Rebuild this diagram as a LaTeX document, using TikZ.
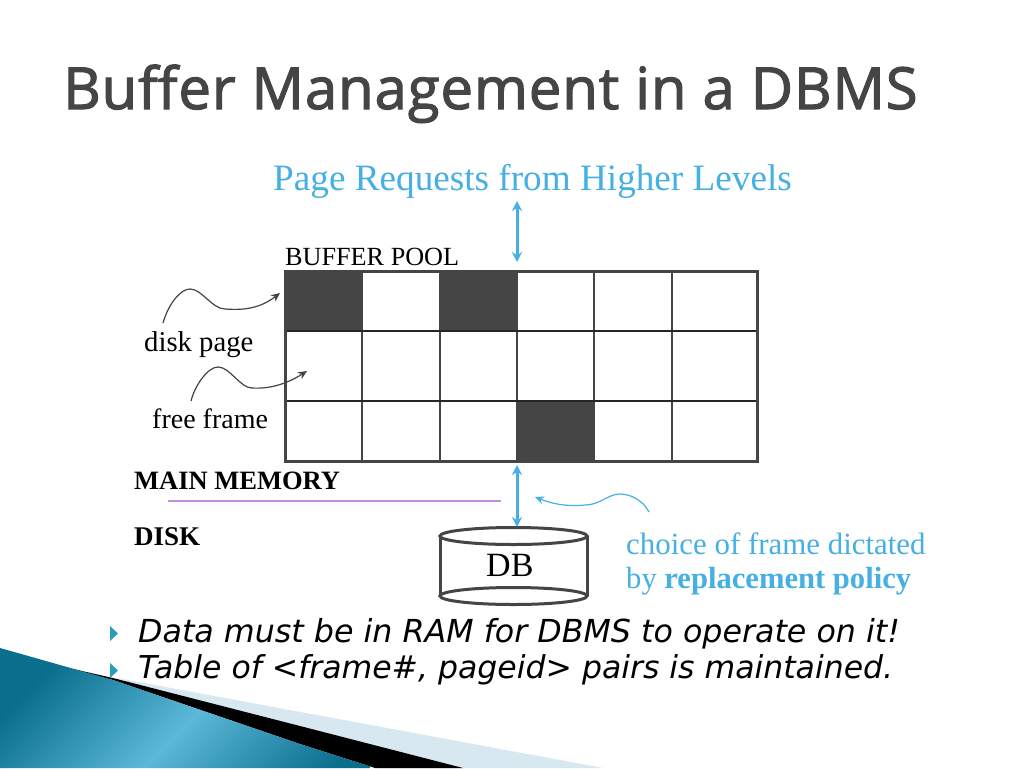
\documentclass[tikz,border=0pt]{standalone}
\usepackage{fontspec}
\setmainfont{Liberation Serif}
\newfontfamily\slidefont{DejaVu Sans}
\newfontfamily\titlefont[LetterSpace=1.6,FakeBold=2]{Open Sans}
\usetikzlibrary{arrows.meta}
\definecolor{skyline}{HTML}{45B0E1}
\definecolor{cellgray}{HTML}{454545}
\definecolor{tealdark}{HTML}{0A6E8D}
\definecolor{teallight}{HTML}{5BB8D8}
\definecolor{paleband}{HTML}{D8E8F1}
\definecolor{purpleline}{HTML}{C28FE0}
\definecolor{bulletteal}{HTML}{2A9DB8}
\pgfdeclarehorizontalshading{tealband}{100bp}{color(0bp)=(tealdark); color(33bp)=(tealdark); color(50bp)=(teallight); color(67bp)=(tealdark); color(100bp)=(tealdark)}
\newcommand{\textsz}[1]{\fontsize{#1}{#1}\selectfont}
\tikzset{
    label/.style={inner sep=0pt, anchor=base west, text=black},
    bluetext/.style={inner sep=0pt, anchor=base west, text=skyline},
    bluearrow/.style={draw=skyline, line width=3pt, {Stealth[length=10pt,width=10pt]}-{Stealth[length=10pt,width=10pt]}},
    curvearrow/.style={draw=cellgray, line width=1.2pt, -{Stealth[length=9pt,width=8pt]}},
}
\begin{document}
\begin{tikzpicture}[x=1pt, y=-1pt]
\useasboundingbox (0,0) rectangle (1024,768);
\fill[white] (0,0) rectangle (1024,768);

% Bottom corner decoration
\fill[paleband] (117,678) -- (603,768) -- (380,768) -- cycle;
\fill[black] (60,666) -- (113,678) -- (300,726) -- (463,768) -- (375,768) -- (300,744) -- (113,680) -- cycle;
\begin{scope}
\clip (0,648) -- (113,680) -- (300,744) -- (375,768) -- (0,768) -- cycle;
\shade[shading=tealband, shading angle=-45] (-30,540) rectangle (370,940);
\end{scope}

% Title
\node[label, text=cellgray] (title) at (63,109) {\titlefont\textsz{58}Buffer Management in a DBMS};

% Header and labels
\node[bluetext] (requests) at (273,190) {\textsz{37.2}Page Requests from Higher Levels};
\node[label] (poolname) at (285,265) {\textsz{26.2}BUFFER POOL};
\node[label] (diskpage) at (144,351) {\textsz{28.7}disk page};
\node[label] (freeframe) at (152,428) {\textsz{28}free frame};
\node[label] (mainmem) at (134,489) {\textsz{26.5}\bfseries MAIN MEMORY};
\node[label] (disk) at (134,545) {\textsz{27}\bfseries DISK};
\node[bluetext] (choice) at (626,554) {\textsz{30.9}choice of frame dictated};
\node[bluetext] (policy) at (626,588) {\textsz{30.6}by \textbf{replacement policy}};

% Buffer pool frames
\foreach \x/\y in {285/271, 440/271, 517/401} {
    \fill[cellgray] (\x,\y) rectangle ++(77,60);
}
\foreach \x in {362,440,517,594,672} {
    \draw[cellgray, line width=2.4pt] (\x,271) -- (\x,461);
}
\foreach \y in {331,401} {
    \draw[black!85, line width=1.5pt] (285,\y) -- (757,\y);
}
\draw[cellgray, line width=3pt] (285,271) rectangle (757,461);

% Disk cylinder
\draw[cellgray, line width=3pt] (440,536) -- (440,596);
\draw[cellgray, line width=3pt] (587,536) -- (587,596);
\draw[cellgray, line width=3pt, fill=white] (513.5,536) ellipse (73.5 and 8.5);
\draw[cellgray, line width=3pt] (513.5,596) ellipse (73.5 and 8.5);
\node[label] (dbname) at (486,576) {\textsz{34}DB};

% Requests and disk transfer
\coordinate (poolin) at (517,262);
\coordinate (reqout) at (517,201);
\coordinate (poolout) at (517,465);
\coordinate (dbin) at (517,527);
\draw[bluearrow] (reqout) -- (poolin);
\draw[bluearrow] (poolout) -- (dbin);

% Memory and disk divider
\coordinate (divleft) at (168,501);
\coordinate (divright) at (501,501);
\draw[purpleline, line width=1.5pt] (divleft) -- (divright);

% Hand drawn arrows
\draw[curvearrow] (163,323) .. controls (168,305) and (180,289) .. (190,289)
    .. controls (202,289) and (212,309) .. (225,309)
    .. controls (240,310) and (258,310) .. (280,293);
\draw[curvearrow] (191,401) .. controls (195,385) and (208,367) .. (218,367)
    .. controls (230,367) and (240,388) .. (252,388)
    .. controls (268,389) and (285,385) .. (307,371);
\draw[draw=skyline, line width=1.2pt, -{Stealth[length=9pt,width=8pt]}] (649,512) .. controls (643,500) and (630,494) .. (620,494)
    .. controls (608,494) and (600,505) .. (585,505)
    .. controls (565,507) and (550,503) .. (535,497);

% Bullets
\foreach \y in {626,663} {
    \fill[bulletteal] (110,\y) -- (118,\y+7.5) -- (110,\y+15) -- cycle;
}
\node[label] (bulletone) at (138,642) {\slidefont\itshape\textsz{31.7}Data must be in RAM for DBMS to operate on it!};
\node[label] (bullettwo) at (138,678) {\slidefont\itshape\textsz{31.5}Table of <frame\#, pageid> pairs is maintained.};
\end{tikzpicture}
\end{document}
